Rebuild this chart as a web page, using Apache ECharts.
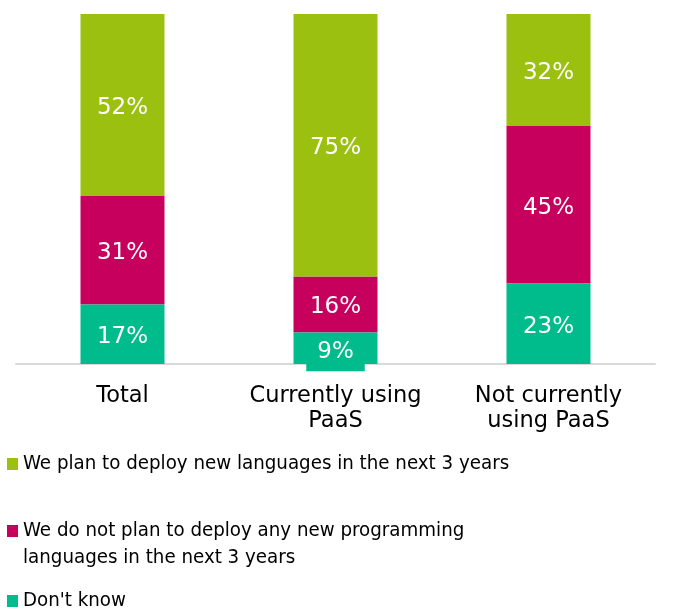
<!DOCTYPE html>
<html>
<head>
<meta charset="utf-8">
<script src="https://cdn.jsdelivr.net/npm/echarts@6/dist/echarts.min.js"></script>
<style>
  html, body { margin: 0; padding: 0; background: #ffffff; }
  #chart { width: 687px; height: 610px; }
</style>
</head>
<body>
<div id="chart"></div>
<script>
// Survey groups along the x axis
const categories = ['Total', 'Currently using\nPaaS', 'Not currently\nusing PaaS'];

// Series names (legend text)
const nameDeploy = 'We plan to deploy new languages in the next 3 years';
const nameNoDeploy = 'We do not plan to deploy any new programming\nlanguages in the next 3 years';
const nameDontKnow = "Don't know";

// Share of respondents (%) per group
const dontKnow = [17, 9, 23];
const noDeploy = [31, 16, 45];
const deploy = [52, 75, 32];

const GREEN = '#9bc00f';
const MAGENTA = '#c7005e';
const TEAL = '#00bc8c';

const labelFont = 'Verdana, "DejaVu Sans", sans-serif';
const legendFont = '"DejaVu Sans Condensed", "DejaVu Sans", sans-serif';

function barLabel() {
  return {
    show: true,
    position: 'inside',
    color: '#ffffff',
    fontFamily: labelFont,
    fontSize: 23,
    offset: [0, 3],
    formatter: p => p.value + '%'
  };
}

// Small segments get a padded label box that spills past the bar
function dontKnowData() {
  return dontKnow.map(v => {
    if (v < 10) {
      return {
        value: v,
        label: {
          backgroundColor: TEAL,
          padding: [8, 11, 8, 11],
          lineHeight: 22,
          offset: [0, 4]
        }
      };
    }
    return v;
  });
}

// One legend block per series so each row sits at its own height.
// A leading blank line keeps the marker level with the first text line
// of a two-line entry.
function legendAt(top, name, leadBlank) {
  return {
    show: true,
    orient: 'vertical',
    left: 7,
    top: top,
    padding: 0,
    itemWidth: 11,
    itemHeight: 12,
    itemGap: 0,
    icon: 'rect',
    selectedMode: false,
    formatter: n => (leadBlank ? '\n' + n : n),
    textStyle: {
      fontFamily: legendFont,
      fontSize: 20.3,
      lineHeight: 27,
      color: '#000000'
    },
    data: [name]
  };
}

const chart = echarts.init(document.getElementById('chart'), null, { renderer: 'canvas' });

chart.setOption({
  animation: false,
  backgroundColor: '#ffffff',
  grid: { left: 16, right: 32, top: 14, bottom: 246 },
  legend: [
    legendAt(450.5, nameDeploy, false),
    legendAt(490.5, nameNoDeploy, true),
    legendAt(587.5, nameDontKnow, false)
  ],
  xAxis: {
    type: 'category',
    data: categories,
    axisLine: { lineStyle: { color: '#d9d9d9', width: 2 } },
    axisTick: { show: false },
    axisLabel: {
      color: '#000000',
      fontFamily: labelFont,
      fontSize: 22.5,
      lineHeight: 25,
      margin: 20,
      interval: 0
    }
  },
  yAxis: {
    type: 'value',
    min: 0,
    max: 100,
    show: false,
    splitLine: { show: false }
  },
  series: [
    {
      name: nameDontKnow,
      type: 'bar',
      stack: 'total',
      barWidth: 84,
      itemStyle: { color: TEAL },
      label: barLabel(),
      data: dontKnowData(),
      z: 3
    },
    {
      name: nameNoDeploy,
      type: 'bar',
      stack: 'total',
      barWidth: 84,
      itemStyle: { color: MAGENTA },
      label: barLabel(),
      data: noDeploy,
      z: 2
    },
    {
      name: nameDeploy,
      type: 'bar',
      stack: 'total',
      barWidth: 84,
      itemStyle: { color: GREEN },
      label: barLabel(),
      data: deploy,
      z: 2
    }
  ]
});
</script>
</body>
</html>
